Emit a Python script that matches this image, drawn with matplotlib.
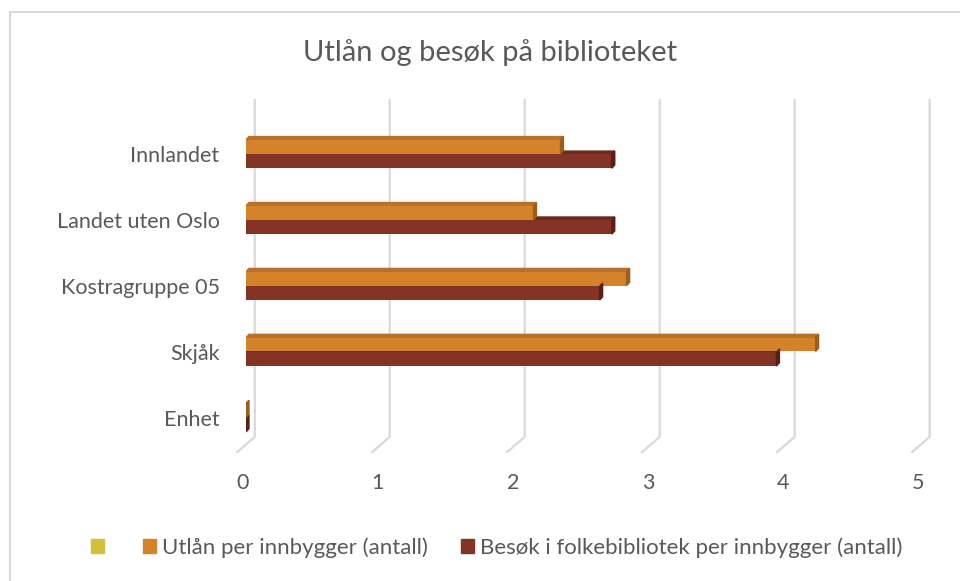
import matplotlib.pyplot as plt
from matplotlib.patches import Patch, Polygon
from matplotlib.lines import Line2D
from matplotlib.transforms import ScaledTranslation

plt.rcParams['font.family'] = ['Lato', 'DejaVu Sans']

# Data
categories = ['Innlandet', 'Landet uten Oslo', 'Kostragruppe 05', 'Skjåk', 'Enhet']
utlan = [2.33, 2.13, 2.82, 4.22, 0.0]
besok = [2.71, 2.71, 2.62, 3.93, 0.0]
series_names = ['', 'Utlån per innbygger (antall)',
                'Besøk i folkebibliotek per innbygger (antall)']
ticks = [0, 1, 2, 3, 4, 5]

c_yellow = '#D4BF3A'
c_orange = '#D5832B'
c_brown = '#843424'
c_text = '#595959'
c_grid = '#D9D9D9'

fig = plt.figure(figsize=(9.6, 5.81), dpi=100)
# chart frame: only left and top edges are visible
fig.lines.append(Line2D([0.0099, 0.0099, 1.0], [0.0, 0.980, 0.980], transform=fig.transFigure,
                        color=c_grid, linewidth=1.5))

ax = fig.add_axes([0.25625, 0.222, 0.703, 0.6059])
ax.set_xlim(0, 5)
ax.set_ylim(4.52, -0.82)

# pseudo-3D gridlines: back wall vertical, then floor diagonal
for t in ticks:
    ax.plot([t + 0.065, t + 0.065, t - 0.065], [-0.82, 4.29, 4.52],
            color=c_grid, lw=1.6, clip_on=False, zorder=0)

h = 0.21
dx, dy = 0.022, 0.05
ypos = list(range(len(categories)))

def draw_bars(values, offset, face, top, side):
    for y, v in zip(ypos, values):
        y0 = y + offset - h / 2
        ax.barh(y + offset, v, height=h, color=face, zorder=3)
        # top face
        ax.add_patch(Polygon([(0, y0), (v, y0), (v + dx, y0 - dy), (dx, y0 - dy)],
                             closed=True, color=top, zorder=2))
        # end face
        ax.add_patch(Polygon([(v, y0), (v + dx, y0 - dy), (v + dx, y0 + h - dy), (v, y0 + h)],
                             closed=True, color=side, zorder=4))

draw_bars(besok, 0.11, c_brown, '#6A2A1C', '#5A2016')
draw_bars(utlan, -0.11, c_orange, '#B8702A', '#9C5E1C')

ax.set_yticks(ypos)
ax.set_yticklabels(categories, fontsize=15.5, color=c_text)
ax.set_xticks(ticks)
ax.set_xticklabels([str(t) for t in ticks], fontsize=15.5, color=c_text)
ax.tick_params(axis='y', length=0, pad=19)
ax.tick_params(axis='x', length=0, pad=15)
shift = ScaledTranslation(-3 / 100, 0, fig.dpi_scale_trans)
for lbl in ax.get_xticklabels():
    lbl.set_transform(lbl.get_transform() + shift)
for s in ax.spines.values():
    s.set_visible(False)

fig.text(0.51, 0.91, 'Utlån og besøk på biblioteket', ha='center', va='center',
         fontsize=21, color=c_text)

handles = [Patch(color=c) for c in (c_yellow, c_orange, c_brown)]
fig.legend(handles, series_names, loc='center', bbox_to_anchor=(0.517, 0.057), ncol=3,
           frameon=False, fontsize=16, labelcolor=c_text, handlelength=0.6,
           handleheight=0.6, handletextpad=0.25, columnspacing=1.5)

plt.savefig('out.png', dpi=100)
